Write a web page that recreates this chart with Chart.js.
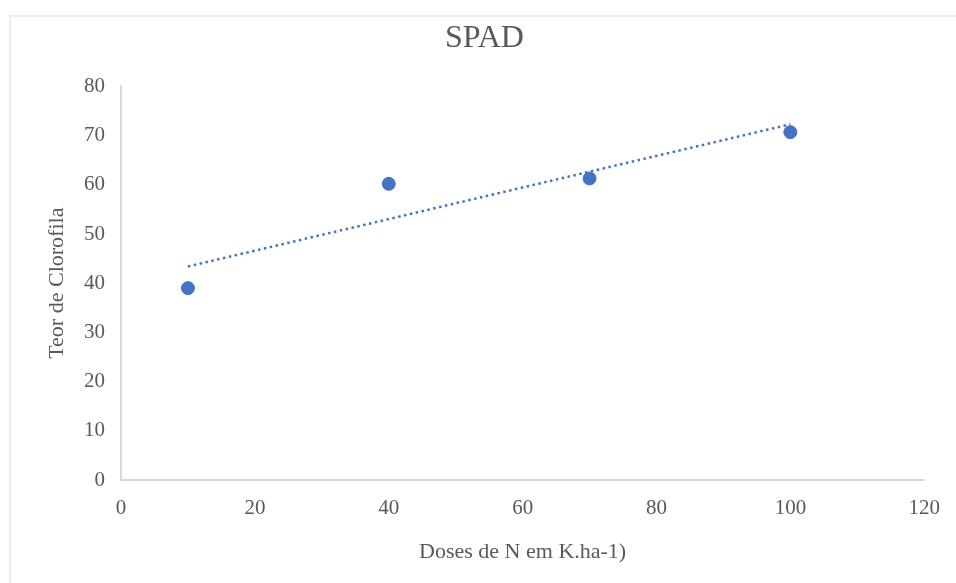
<!DOCTYPE html>
<html>
<head>
<meta charset="utf-8">
<script src="https://cdn.jsdelivr.net/npm/chart.js@4/dist/chart.umd.min.js"></script>
<style>
  html, body { margin: 0; padding: 0; background: #ffffff; }
  #wrap { position: relative; width: 956px; height: 583px; }
  #frame { position: absolute; left: 9px; top: 15px; right: 0; bottom: 0;
           border-top: 2px solid #ececec; border-left: 2px solid #ececec; }
  canvas { position: absolute; left: 0; top: 0; }
</style>
</head>
<body>
<div id="wrap">
  <div id="frame"></div>
  <canvas id="c" width="956" height="583"></canvas>
</div>
<script>
// Data
const doses = [10, 40, 70, 100];
const spad = [39.0, 60.2, 61.3, 70.7];
// Linear trendline endpoints
const trendX = [10, 100];
const trendY = [43.4, 72.3];
const xTicks = [0, 20, 40, 60, 80, 100, 120];
const yTicks = [0, 10, 20, 30, 40, 50, 60, 70, 80];

const titleText = 'SPAD';
const xTitle = 'Doses de N em K.ha-1)';
const yTitle = 'Teor de Clorofila';

const blue = '#4472C4';
const textGray = '#595959';
const axisGray = '#d9d9d9';
const fontFam = '"Liberation Serif", "Times New Roman", serif';

const ctx = document.getElementById('c').getContext('2d');
new Chart(ctx, {
  type: 'scatter',
  data: {
    datasets: [
      {
        label: 'SPAD',
        data: doses.map((x, i) => ({ x: x, y: spad[i] })),
        backgroundColor: blue,
        borderColor: blue,
        pointRadius: 6.5,
        pointHoverRadius: 6.5,
        order: 2
      },
      {
        type: 'line',
        label: 'Linear',
        data: trendX.map((x, i) => ({ x: x, y: trendY[i] })),
        borderColor: blue,
        borderWidth: 2.5,
        borderDash: [2.5, 3.5],
        borderCapStyle: 'butt',
        pointRadius: 0,
        fill: false,
        tension: 0,
        order: 1
      }
    ]
  },
  options: {
    responsive: false,
    animation: false,
    devicePixelRatio: 1,
    layout: { padding: { left: 44, right: 31, top: 0, bottom: 12 } },
    plugins: {
      legend: { display: false },
      tooltip: { enabled: false },
      title: {
        display: true,
        text: titleText,
        color: textGray,
        font: { family: fontFam, size: 32, weight: 'normal' },
        padding: { top: 19, bottom: 29 }
      }
    },
    scales: {
      x: {
        type: 'linear',
        min: 0, max: 120,
        afterBuildTicks: (s) => { s.ticks = xTicks.map(v => ({ value: v })); },
        grid: { display: false, drawTicks: false },
        border: { display: true, color: axisGray, width: 2 },
        ticks: { color: textGray, font: { family: fontFam, size: 21 }, padding: 16, maxRotation: 0 },
        title: {
          display: true, text: xTitle, color: textGray,
          font: { family: fontFam, size: 22 }, padding: { top: 6, bottom: 6 }
        },
        afterFit: (s) => { s.height = 91; }
      },
      y: {
        type: 'linear',
        min: 0, max: 80,
        afterBuildTicks: (s) => { s.ticks = yTicks.map(v => ({ value: v })); },
        grid: { display: false, drawTicks: false },
        border: { display: true, color: axisGray, width: 2 },
        ticks: { color: textGray, font: { family: fontFam, size: 21 }, padding: 16 },
        title: {
          display: true, text: yTitle, color: textGray,
          font: { family: fontFam, size: 22 }, padding: { top: 0, bottom: 0 }
        },
        afterFit: (s) => { s.width = 77; }
      }
    }
  }
});
</script>
</body>
</html>
